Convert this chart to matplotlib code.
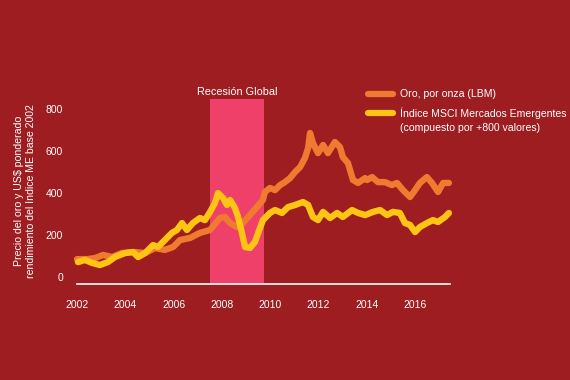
import matplotlib
matplotlib.use("Agg")
import matplotlib.pyplot as plt
from matplotlib.lines import Line2D

plt.rcParams['font.family'] = ['Liberation Sans', 'DejaVu Sans']

# Data
gold_years = [2002.00, 2002.41, 2002.75, 2003.08, 2003.45, 2003.86, 2004.40, 2004.82, 2005.23, 2005.64,
              2005.98, 2006.27, 2006.68, 2007.09, 2007.51, 2007.92, 2008.13, 2008.34, 2008.63, 2008.87,
              2009.16, 2009.45, 2009.70, 2009.78, 2009.99, 2010.20, 2010.41, 2010.61, 2010.82, 2011.03,
              2011.24, 2011.44, 2011.57, 2011.65,
              2011.77, 2011.98, 2012.19, 2012.39, 2012.68, 2012.89, 2013.01, 2013.22, 2013.43, 2013.64,
              2013.93, 2014.01, 2014.22, 2014.46, 2014.75, 2015.04, 2015.25, 2015.50, 2015.79, 2016.00,
              2016.20, 2016.49, 2016.70, 2016.95, 2017.16, 2017.40]
gold_values = [85, 85, 90, 105, 95, 114, 119, 114, 138, 129,
               143, 176, 186, 210, 224, 281, 286, 257, 238, 257,
               295, 333, 367, 405, 424, 414, 438, 452, 471, 500,
               524, 567, 614, 686,
               638, 590, 629, 590, 643, 619, 571, 543, 462, 448,
               471, 462, 476, 452, 452, 438, 448, 414, 381, 414,
               448, 476, 448, 405, 448, 448]

msci_years = [2002.04, 2002.33, 2002.62, 2002.95, 2003.28, 2003.57, 2003.99, 2004.32, 2004.53, 2004.82,
              2005.15, 2005.35, 2005.64, 2005.93, 2006.14, 2006.35, 2006.55, 2006.80, 2007.09, 2007.30,
              2007.51, 2007.71, 2007.84, 2008.05, 2008.21, 2008.34, 2008.54, 2008.67, 2008.83, 2008.96,
              2009.16, 2009.37, 2009.50, 2009.70, 2009.99, 2010.20, 2010.49, 2010.74, 2011.03, 2011.36,
              2011.57, 2011.77, 2011.98, 2012.19, 2012.48, 2012.77, 2013.01, 2013.39, 2013.64, 2013.93,
              2014.26, 2014.55, 2014.84, 2015.08, 2015.37, 2015.58, 2015.79, 2016.00, 2016.20, 2016.49,
              2016.74, 2016.95, 2017.24, 2017.40]
msci_values = [71, 81, 67, 57, 71, 95, 114, 119, 95, 114,
               152, 143, 176, 210, 224, 257, 224, 257, 281, 271,
               310, 352, 400, 376, 343, 367, 329, 286, 210, 143,
               138, 167, 210, 271, 305, 319, 305, 333, 343, 357,
               343, 286, 271, 310, 281, 305, 286, 319, 305, 295,
               310, 319, 295, 310, 305, 257, 248, 214, 238, 257,
               271, 262, 286, 305]

recession = [2007.51, 2009.74]
x_ticks = [2002, 2004, 2006, 2008, 2010, 2012, 2014, 2016]
y_ticks = [0, 200, 400, 600, 800]

series_labels = ["Oro, por onza (LBM)", "Índice MSCI Mercados Emergentes"]
legend_extra = "(compuesto por +800 valores)"
ylabel = "Precio del oro y US$ ponderado\nrendimiento del Indice ME base 2002"

BG = "#9E1D21"
PINK = "#EE4069"
ORANGE = "#F07A30"
YELLOW = "#FFC414"

W, H = 570, 380
fig = plt.figure(figsize=(W / 100, H / 100), dpi=100, facecolor=BG)
ax = fig.add_axes([70 / W, 1 - 290 / H, 390 / W, 195 / H])
ax.set_facecolor(BG)
ax.set_xlim(2001.71, 2017.86)
ax.set_ylim(-62, 867)

for s in ax.spines.values():
    s.set_visible(False)

ax.fill_between(recession, -33, 848, color=PINK, lw=0, zorder=1)
ax.plot([2002, 2017.45], [-33, -33], color="white", lw=1.2, zorder=2)

ax.plot(gold_years, gold_values, color=ORANGE, lw=4.6, solid_joinstyle="round",
        solid_capstyle="round", zorder=3)
ax.plot(msci_years, msci_values, color=YELLOW, lw=4.6, solid_joinstyle="round",
        solid_capstyle="round", zorder=4)

ax.set_xticks(x_ticks)
ax.set_xticklabels([str(t) for t in x_ticks])
ax.set_yticks(y_ticks)
ax.set_yticklabels([str(t) for t in y_ticks])
ax.tick_params(axis="both", length=0, colors="white", labelsize=7.5)
ax.tick_params(axis="x", pad=7)
ax.tick_params(axis="y", pad=5)

ax.text(sum(recession) / 2 + 0.0, 880, "Recesión Global", color="white", fontsize=7.8,
        ha="center", va="center")

fig.text(25 / W, 1 - 191 / H, ylabel, color="white", fontsize=7.6, rotation=90,
         ha="center", va="center", linespacing=1.35, multialignment="center")

# legend drawn manually
for i, (c, lab) in enumerate(zip([ORANGE, YELLOW], series_labels)):
    yy = 1 - (94 + 19 * i) / H
    fig.add_artist(Line2D([368 / W, 393 / W], [yy, yy], color=c, lw=4.5,
                          solid_capstyle="round", transform=fig.transFigure))
    fig.text(400 / W, yy, lab, color="white", fontsize=7.6, va="center", ha="left")
fig.text(400 / W, 1 - 128 / H, legend_extra, color="white", fontsize=7.6, va="center", ha="left")

fig.savefig("out.png", dpi=100, facecolor=BG)
